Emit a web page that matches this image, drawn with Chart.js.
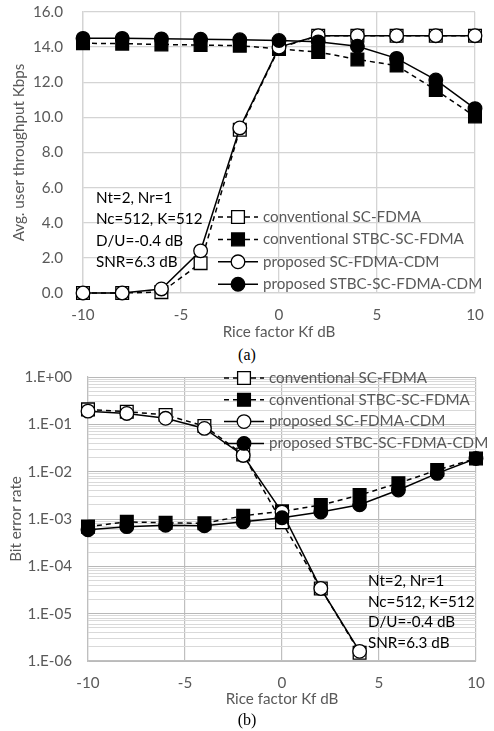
<!DOCTYPE html>
<html>
<head>
<meta charset="utf-8">
<script src="https://cdn.jsdelivr.net/npm/chart.js@4.4.1/dist/chart.umd.min.js"></script>
<style>
  body { margin:0; background:#fff; width:494px; height:731px; position:relative; overflow:hidden; }
  .box { position:absolute; left:0; width:494px; }
  .cap { position:absolute; left:0; width:494px; text-align:center;
         font-family:"Liberation Serif", serif; font-size:16px; color:#000; }
</style>
</head>
<body>
<div class="box" style="top:0;height:345px"><canvas id="thrChart"></canvas></div>
<div class="cap" style="top:346px">(a)</div>
<div class="box" style="top:360px;height:352px"><canvas id="berChart"></canvas></div>
<div class="cap" style="top:711px">(b)</div>

<script>
/* ---------- data ---------- */
const kf = [-10, -8, -6, -4, -2, 0, 2, 4, 6, 8, 10];

// (a) avg. user throughput, Kbps
const thrConvSc    = [0.0, 0.0, 0.05, 1.7, 9.3, 13.95, 14.65, 14.65, 14.65, 14.65, 14.65];
const thrConvStbc  = [14.22, 14.2, 14.15, 14.12, 14.08, 13.9, 13.72, 13.3, 12.95, 11.56, 10.05];
const thrPropSc    = [0.0, 0.0, 0.23, 2.4, 9.4, 14.0, 14.65, 14.65, 14.65, 14.65, 14.65];
const thrPropStbc  = [14.5, 14.5, 14.47, 14.45, 14.42, 14.38, 14.3, 14.05, 13.36, 12.13, 10.5];

// (b) bit error rate
const berConvSc    = [0.207, 0.185, 0.158, 0.092, 0.023, 0.00085, 3.4e-5, 1.5e-6, null, null, null];
const berConvStbc  = [6.9e-4, 8.7e-4, 8.3e-4, 8.1e-4, 1.17e-3, 1.45e-3, 1.97e-3, 3.2e-3, 5.7e-3, 1.08e-2, 1.9e-2];
const berPropSc    = [0.19, 0.17, 0.134, 0.082, 0.022, 0.0014, 3.4e-5, 1.6e-6, null, null, null];
const berPropStbc  = [5.9e-4, 6.9e-4, 7.4e-4, 7.2e-4, 8.7e-4, 1.06e-3, 1.4e-3, 2.0e-3, 4.1e-3, 9.2e-3, 1.9e-2];

const seriesNames = ['conventional SC-FDMA', 'conventional STBC-SC-FDMA',
                     'proposed SC-FDMA-CDM', 'proposed STBC-SC-FDMA-CDM'];
const kfTicks = [-10, -5, 0, 5, 10];
const thrTicks = [0, 2, 4, 6, 8, 10, 12, 14, 16];
const thrTickLabels = ['0.0', '2.0', '4.0', '6.0', '8.0', '10.0', '12.0', '14.0', '16.0'];
const berDecades = [1, 1e-1, 1e-2, 1e-3, 1e-4, 1e-5, 1e-6];
const berTickLabels = ['1.E+00', '1.E-01', '1.E-02', '1.E-03', '1.E-04', '1.E-05', '1.E-06'];
const noteLines = ['Nt=2, Nr=1', 'Nc=512, K=512', 'D/U=-0.4 dB', 'SNR=6.3 dB'];

/* ---------- styles ---------- */
const FONT = 'Lato';
const TXT = '#595959';
const FSIZE = 15.2;

const styles = [
  { dash:[5,4], shape:'rect',   fill:'#fff' },
  { dash:[5,4], shape:'rect',   fill:'#000' },
  { dash:[],    shape:'circle', fill:'#fff' },
  { dash:[],    shape:'circle', fill:'#000' },
];

function mkSet(i, vals) {
  const s = styles[i];
  return {
    label: seriesNames[i],
    data: kf.map((x, k) => ({ x, y: vals[k] })),
    borderColor: '#000', borderWidth: 1.5, borderDash: s.dash,
    pointStyle: s.shape, pointRadius: s.shape === 'rect' ? 9 : 6.8,
    pointBackgroundColor: s.fill, pointBorderColor: '#000', pointBorderWidth: 1.3,
    tension: 0, spanGaps: false, order: 4 - i, clip: false,
  };
}

function marker(ctx, shape, fill, x, y) {
  ctx.save();
  ctx.setLineDash([]);
  ctx.fillStyle = fill; ctx.strokeStyle = '#000'; ctx.lineWidth = 1.3;
  ctx.beginPath();
  if (shape === 'rect') ctx.rect(x - 6.4, y - 6.4, 12.8, 12.8);
  else ctx.arc(x, y, 6.8, 0, Math.PI * 2);
  ctx.fill(); ctx.stroke();
  ctx.restore();
}

// legend + note text, both drawn inside the plot like the original
const overlay = {
  id: 'overlay',
  afterDraw(chart, args, o) {
    const ctx = chart.ctx;
    ctx.save();
    ctx.font = `${FSIZE}px ${FONT}`;
    ctx.textBaseline = 'middle';
    seriesNames.forEach((name, i) => {
      const y = o.legY + i * o.legDy;
      const s = styles[i];
      ctx.strokeStyle = '#000'; ctx.lineWidth = 1.5; ctx.setLineDash(s.dash);
      ctx.beginPath(); ctx.moveTo(o.legX, y); ctx.lineTo(o.legX + 40, y); ctx.stroke();
      marker(ctx, s.shape, s.fill, o.legX + 20, y);
      ctx.fillStyle = TXT; ctx.textAlign = 'left';
      ctx.fillText(name, o.legX + 45, y);
    });
    ctx.fillStyle = '#000';
    noteLines.forEach((t, i) => ctx.fillText(t, o.noteX, o.noteY + i * o.noteDy));
    ctx.restore();
  }
};

const tickFont = { family: FONT, size: FSIZE };
const titleFont = { family: FONT, size: FSIZE };
const noPadX = s => { s.paddingLeft = 0; s.paddingRight = 0; };
const noPadY = s => { s.paddingTop = 0; s.paddingBottom = 0; };

/* ---------- (a) throughput ---------- */
new Chart(document.getElementById('thrChart'), {
  type: 'line',
  data: { datasets: [mkSet(0, thrConvSc), mkSet(1, thrConvStbc), mkSet(2, thrPropSc), mkSet(3, thrPropStbc)] },
  options: {
    responsive: true, maintainAspectRatio: false, animation: false,
    layout: { padding: { top: 12, right: 19, left: 0, bottom: 0 } },
    plugins: {
      legend: { display: false }, tooltip: { enabled: false },
      overlay: { legX: 218, legY: 217, legDy: 22.4, noteX: 96, noteY: 198, noteDy: 21.4 },
    },
    scales: {
      x: {
        type: 'linear', min: -10, max: 10,
        afterBuildTicks: s => { s.ticks = kfTicks.map(v => ({ value: v })); },
        ticks: { color: TXT, font: tickFont, padding: 13, maxRotation: 0 },
        grid: { color: '#d4d4d4', lineWidth: 1.3, drawTicks: false },
        border: { color: '#d4d4d4', width: 1.3 },
        title: { display: true, text: 'Rice factor Kf dB', color: TXT, font: titleFont, padding: { top: 0, bottom: 4 } },
        afterFit: s => { s.height = 52; noPadX(s); },
      },
      y: {
        min: 0, max: 16,
        afterBuildTicks: s => { s.ticks = thrTicks.map(v => ({ value: v })); },
        ticks: { color: TXT, font: tickFont, padding: 20,
                 callback: v => thrTickLabels[thrTicks.indexOf(v)] },
        grid: { color: '#d4d4d4', lineWidth: 1.3, drawTicks: false },
        border: { color: '#d4d4d4', width: 1.3 },
        title: { display: true, text: 'Avg. user throughput Kbps', color: TXT, font: titleFont, padding: { top: 10, bottom: 0 } },
        afterFit: s => { s.width = 83; noPadY(s); },
      },
    },
  },
  plugins: [overlay],
});

/* ---------- (b) BER ---------- */
const isDecade = v => Math.abs(Math.log10(v) - Math.round(Math.log10(v))) < 1e-9;
const berGridVals = [];
berDecades.slice(1).forEach(d => { for (let m = 1; m <= 9; m++) berGridVals.push(m * d); });
berGridVals.push(1);

new Chart(document.getElementById('berChart'), {
  type: 'line',
  data: { datasets: [mkSet(0, berConvSc), mkSet(1, berConvStbc), mkSet(2, berPropSc), mkSet(3, berPropStbc)] },
  options: {
    responsive: true, maintainAspectRatio: false, animation: false,
    layout: { padding: { top: 17, right: 18, left: 0, bottom: 0 } },
    plugins: {
      legend: { display: false }, tooltip: { enabled: false },
      overlay: { legX: 224, legY: 18, legDy: 21.8, noteX: 368, noteY: 221, noteDy: 20.7 },
    },
    scales: {
      x: {
        type: 'linear', min: -10, max: 10,
        afterBuildTicks: s => { s.ticks = kfTicks.map(v => ({ value: v })); },
        ticks: { color: TXT, font: tickFont, padding: 13, maxRotation: 0 },
        grid: { color: '#bfbfbf', lineWidth: 1.2, drawTicks: false },
        border: { color: '#bfbfbf', width: 1.2 },
        title: { display: true, text: 'Rice factor Kf dB', color: TXT, font: titleFont, padding: { top: 0, bottom: 4 } },
        afterFit: s => { s.height = 51; noPadX(s); },
      },
      y: {
        type: 'logarithmic', min: 1e-6, max: 1,
        afterBuildTicks: s => { s.ticks = berGridVals.map(v => ({ value: v })); },
        ticks: { color: TXT, font: tickFont, padding: 16, autoSkip: false,
                 callback: v => {
                   if (!isDecade(v)) return '';
                   const i = berDecades.findIndex(d => Math.abs(Math.log10(d) - Math.log10(v)) < 1e-9);
                   return berTickLabels[i];
                 } },
        grid: { drawTicks: false, lineWidth: 1,
                color: c => (c.tick && isDecade(c.tick.value)) ? '#b8b8b8' : '#d9d9d9' },
        border: { color: '#bfbfbf', width: 1.2 },
        title: { display: true, text: 'Bit error rate', color: TXT, font: titleFont, padding: { top: 7, bottom: 0 } },
        afterFit: s => { s.width = 88; noPadY(s); },
      },
    },
  },
  plugins: [overlay],
});
</script>
</body>
</html>
